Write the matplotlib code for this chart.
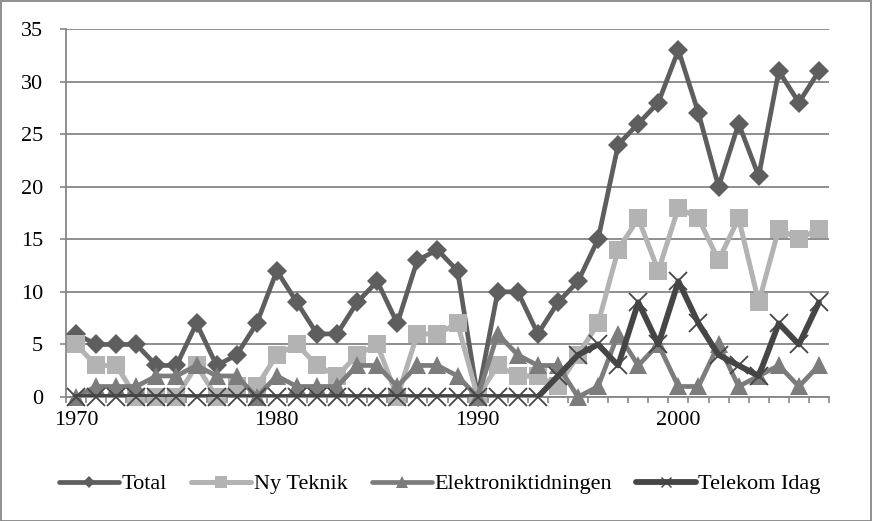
import matplotlib
matplotlib.use("Agg")
import matplotlib.pyplot as plt
from matplotlib.lines import Line2D
import numpy as np

years = list(range(1970, 2008))

total = [6, 5, 5, 5, 3, 3, 7, 3, 4, 7, 12, 9, 6, 6, 9, 11, 7, 13, 14, 12,
         0, 10, 10, 6, 9, 11, 15, 24, 26, 28, 33, 27, 20, 26, 21, 31, 28, 31]
ny_teknik = [5, 3, 3, 0, 0, 0, 3, 0, 1, 1, 4, 5, 3, 2, 4, 5, 0, 6, 6, 7,
             0, 3, 2, 2, 1, 4, 7, 14, 17, 12, 18, 17, 13, 17, 9, 16, 15, 16]
elektronik = [0, 1, 1, 1, 2, 2, 3, 2, 2, 0, 2, 1, 1, 1, 3, 3, 1, 3, 3, 2,
              0, 6, 4, 3, 3, 0, 1, 6, 3, 5, 1, 1, 5, 1, 2, 3, 1, 3]
telekom = [0, 0, 0, 0, 0, 0, 0, 0, 0, 0, 0, 0, 0, 0, 0, 0, 0, 0, 0, 0,
           0, 0, 0, 0, 2, 4, 5, 3, 9, 5, 11, 7, 4, 3, 2, 7, 5, 9]

series_names = ["Total", "Ny Teknik", "Elektroniktidningen", "Telekom Idag"]
y_ticks = [0, 5, 10, 15, 20, 25, 30, 35]
x_labels = [1970, 1980, 1990, 2000]

FONT = "Liberation Serif"
GRID = "#868686"

fig = plt.figure(figsize=(8.72, 5.21), dpi=100)
W, H = 872, 521
ax = fig.add_axes([66 / W, (H - 397) / H, (829 - 66) / W, (397 - 29) / H])

styles = [
    dict(data=total, color="#5e5e5e", lw=3.4, marker="D", ms=10.0, mew=0),
    dict(data=ny_teknik, color="#b3b3b3", lw=3.6, marker="s", ms=13.5, mew=0),
    dict(data=elektronik, color="#7c7c7c", lw=3.4, marker="^", ms=13.5, mew=0),
    dict(data=telekom, color="#454545", lw=4.2, marker="x", ms=13.0, mew=1.3),
]

handles = []
for k, (name, st) in enumerate(zip(series_names, styles)):
    ax.plot(years, st["data"], color=st["color"], lw=st["lw"], zorder=3 + 2 * k,
            solid_joinstyle="round", solid_capstyle="round")
    ax.plot(years, st["data"], linestyle="none", marker=st["marker"], ms=st["ms"],
            color=st["color"], mec=st["color"], mew=st["mew"], zorder=4 + 2 * k,
            clip_on=False)
    handles.append(Line2D([0], [0], color=st["color"], lw=st["lw"], marker=st["marker"],
                          ms=st["ms"] * 0.6, mfc=st["color"], mec=st["color"],
                          mew=st["mew"] * 0.8, solid_capstyle="round"))

ax.set_xlim(1969.5, 2007.5)
ax.set_ylim(0, 35)

ax.set_yticks(y_ticks)
ax.set_yticklabels([str(v) for v in y_ticks], fontfamily=FONT, fontsize=16)
ax.yaxis.grid(True, color=GRID, lw=1.3, zorder=0)
ax.set_axisbelow(True)

# category ticks sit between the years; labels every decade
ax.set_xticks(np.arange(1969.5, 2008.0, 1.0))
ax.set_xticklabels([])
ax.set_xticks(x_labels, minor=True)
ax.set_xticklabels([str(v) for v in x_labels], minor=True, fontfamily=FONT, fontsize=16)
ax.tick_params(axis="x", which="major", length=4.5, width=1.2, color=GRID, direction="out")
ax.tick_params(axis="x", which="minor", length=0, pad=10)
ax.tick_params(axis="y", length=4.5, width=1.2, color=GRID, direction="out", pad=12)

for side in ("top", "right"):
    ax.spines[side].set_visible(False)
for side in ("left", "bottom"):
    ax.spines[side].set_color(GRID)
    ax.spines[side].set_linewidth(1.3)

leg = fig.legend(handles, series_names, loc="center", ncol=4,
                 bbox_to_anchor=(440 / W, (H - 484) / H), frameon=False,
                 prop=dict(family=FONT, size=16), handlelength=2.7,
                 handletextpad=0.1, columnspacing=1.1)

fig.patches.append(plt.Rectangle((0.5 / W, 0.5 / H), 1 - 1.5 / W, 1 - 1.5 / H,
                                 transform=fig.transFigure, fill=False,
                                 edgecolor=GRID, lw=1.3))

fig.savefig("out.png", dpi=100)
